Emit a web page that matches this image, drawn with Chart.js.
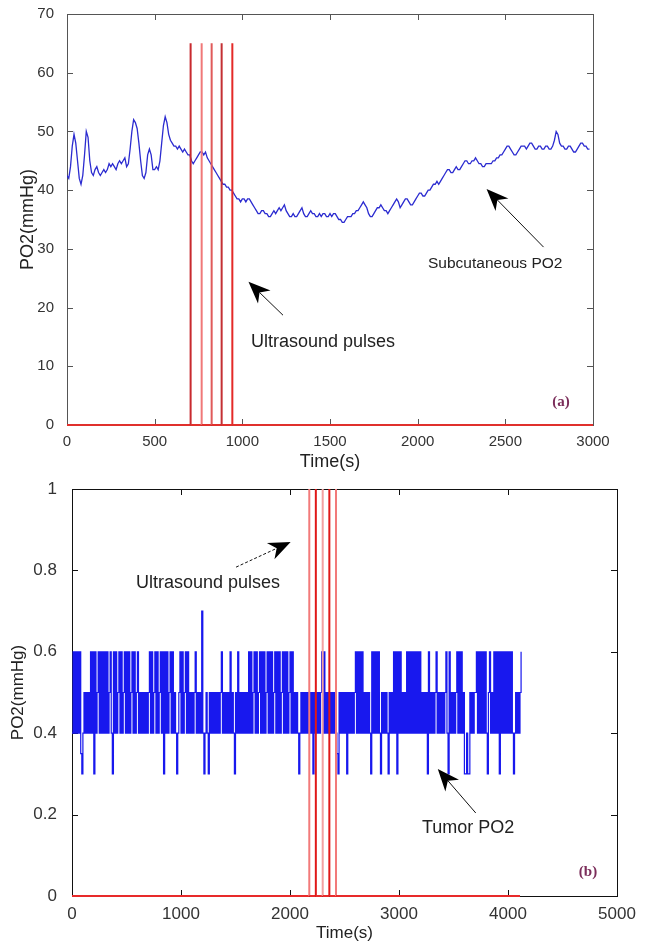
<!DOCTYPE html>
<html>
<head>
<meta charset="utf-8">
<script src="https://cdn.jsdelivr.net/npm/chart.js@4"></script>
<style>
  html, body { margin: 0; padding: 0; background: #fff; }
  body { width: 645px; height: 947px; position: relative; overflow: hidden; }
  .box { position: absolute; left: 0; width: 645px; }
</style>
</head>
<body>
<div class="box" style="top:0;height:480px"><canvas id="chartA"></canvas></div>
<div class="box" style="top:470px;height:477px"><canvas id="chartB"></canvas></div>
<script>
// (a) subcutaneous PO2, one sample every 10 s starting at 0 s
const subStep = 10;
const subPO2 = [
  42.5, 42, 44, 47.5, 49.5, 48, 45, 42, 41, 42.5,
  46, 50, 49, 45, 43, 42.5, 43.5, 44, 43, 42.5,
  43, 43.5, 43, 43.5, 44.5, 44, 44.5, 44, 43.5, 44.5,
  45, 44.5, 45, 45.5, 44, 44.5, 47, 50, 52, 51.5,
  50.5, 48, 45, 42.5, 42, 43, 46, 47, 46, 43.5,
  43.5, 44, 43.5, 45, 48, 51, 52.5, 51.5, 49.5, 48.5,
  48, 47.5, 47.5, 47, 47.5, 47, 46.5, 47, 46.5, 46,
  46, 45, 44.5, 45, 45.5, 46, 46.5, 46.5, 46, 46.5,
  45.5, 45, 44.5, 44, 43.5, 43, 42.5, 42, 41.5, 41,
  41, 40.5, 40.5, 40, 40, 39.5, 39, 38.5, 38.5, 38,
  38.5, 38.5, 38, 38.5, 38.5, 38, 37.5, 37, 36.5, 36,
  36, 36.5, 36.5, 36, 36, 35.5, 35.5, 36, 36.5, 36,
  36.5, 37, 36.5, 37, 37.5, 36.5, 36, 35.5, 35.5, 36,
  35.5, 35.5, 36, 36.5, 37, 36, 35.5, 35.5, 36, 36.5,
  36, 36, 35.5, 35.5, 36, 35.5, 36, 36, 35.5, 35.5,
  36, 35.5, 36, 36, 35.5, 35, 35, 34.5, 34.5, 35,
  35.5, 35.5, 35.5, 36, 36, 36.5, 36.5, 37, 37.5, 38,
  37.5, 37, 36, 35.5, 35.5, 36, 36.5, 37, 37, 37.5,
  37, 36.5, 36.5, 36, 36.5, 37, 37.5, 38, 38.5, 38,
  37, 37.5, 38, 38.5, 38.5, 38, 37.5, 37.5, 38, 38.5,
  39, 39.5, 39.5, 39, 39, 39.5, 40, 40, 40.5, 41,
  41, 41.5, 41, 41.5, 42, 42.5, 43, 43.5, 43.5, 43,
  43, 43.5, 44, 43.5, 43.5, 44, 44.5, 45, 45, 44.5,
  44.5, 45, 45, 45.5, 45, 44.5, 44.5, 44, 44, 44.5,
  44.5, 44.5, 44.5, 45, 45, 45.5, 45.5, 46, 46, 46.5,
  47, 47.5, 47.5, 47, 46.5, 46, 46, 46.5, 47, 47.5,
  47.5, 47.5, 47, 47.5, 48, 48, 47.5, 47, 47, 47.5,
  47.5, 47, 47, 47.5, 47.5, 47, 47, 47.5, 48.5, 50,
  49.5, 48, 47.5, 47.5, 47, 47, 47.5, 47.5, 47, 46.5,
  46.5, 47, 47.5, 48, 48, 47.5, 47.5, 47, 47
];
const pulseTimesA = [705, 768, 825, 882, 943];
const pulseHeightA = 65;
const pulseEndA = 3000;

// (b) tumor PO2 in tenths of mmHg, one sample every 10 s starting at 0 s
const tumorStep = 10;
const tumorTenths = [
  4, 6, 4, 6, 4, 6, 4, 6, 3.5, 3,
  4, 5, 4, 5, 4, 5, 4, 6, 4, 6,
  3, 6, 4, 5, 6, 4, 6, 4, 6, 4,
  6, 4, 6, 4, 5, 6, 4, 3, 6, 4,
  6, 4, 5, 6, 4, 6, 4, 5, 6, 4,
  6, 4, 6, 4, 5, 6, 4, 6, 4, 5,
  6, 4, 5, 4, 5, 4, 5, 4, 5, 4,
  5, 6, 4, 6, 4, 5, 6, 4, 6, 4,
  5, 6, 4, 6, 3, 6, 4, 6, 4, 5,
  6, 4, 6, 4, 5, 4, 3, 4, 5, 6,
  4, 6, 4, 5, 6, 4, 6, 4, 5, 4,
  5, 4, 5, 6, 4, 5, 4, 5, 4, 7,
  4, 3, 4, 5, 4, 3, 5, 4, 5, 4,
  5, 4, 5, 4, 5, 4, 5, 6, 4, 5,
  4, 5, 4, 5, 4, 6, 4, 5, 4, 3,
  5, 4, 6, 4, 5, 4, 5, 4, 5, 4,
  5, 4, 6, 4, 6, 4, 5, 6, 4, 6,
  4, 5, 6, 4, 6, 4, 6, 4, 5, 6,
  4, 6, 4, 6, 4, 5, 6, 4, 6, 4,
  6, 4, 5, 6, 4, 6, 4, 6, 4, 5,
  6, 4, 6, 4, 5, 4, 5, 4, 3, 4,
  5, 4, 5, 4, 5, 4, 5, 4, 5, 4,
  5, 3, 5, 4, 5, 4, 5, 4, 5, 6,
  4, 6, 4, 5, 4, 5, 4, 5, 4, 5,
  4, 5, 4, 3.5, 3, 5, 4, 5, 4, 5,
  4, 5, 3, 5, 4, 5, 4, 5, 4, 5,
  6, 4, 6, 4, 6, 4, 6, 4, 5, 4,
  5, 4, 5, 4, 3, 6, 4, 6, 4, 6,
  4, 6, 4, 3, 5, 4, 5, 4, 5, 4,
  3, 5, 4, 5, 4, 6, 4, 6, 3, 6,
  4, 6, 4, 5, 4, 5, 4, 6, 4, 6,
  4, 6, 4, 6, 4, 6, 4, 6, 4, 6,
  4, 5, 4, 5, 4, 5, 3, 6, 4, 5,
  4, 5, 4, 5, 6, 4, 5, 4, 5, 4,
  5, 4, 5, 6, 4, 3, 6, 4, 5, 4,
  5, 4, 5, 6, 4, 6, 4, 6, 4, 5,
  3, 3, 4, 3, 3, 5, 4, 5, 4, 5,
  5, 6, 4, 6, 4, 6, 4, 6, 4, 6,
  4, 3, 5, 6, 4, 5, 4, 6, 4, 6,
  4, 6, 3, 6, 4, 6, 4, 6, 4, 6,
  4, 6, 4, 6, 4, 3, 4, 5, 4, 5,
  4, 5, 6
];
const pulseTimesB = [2177, 2237, 2300, 2361, 2422];
const pulseHeightB = 1;
const pulseEndB = 4110;

const FONT = '"Liberation Sans", Arial, sans-serif';

function pulseTrain(times, height, end) {
  const pts = [{ x: 0, y: 0 }];
  times.forEach(t => pts.push({ x: t, y: 0 }, { x: t, y: height }, { x: t, y: 0 }));
  pts.push({ x: end, y: 0 });
  return pts;
}

// vertical segments of pulse k start at point 3k+1 and 3k+2
function pulseShade(shades, base) {
  return ctx => {
    const i = ctx.p0DataIndex - 1;
    if (i < 0 || i % 3 === 2) return base;
    return shades[Math.floor(i / 3)] || base;
  };
}

// matlab style box with inward ticks on all four sides
const matlabBox = {
  id: 'matlabBox',
  beforeDatasetsDraw(chart, args, opts) {
    const { ctx, chartArea: a, scales: { x, y } } = chart;
    const len = opts.tick || 6;
    ctx.save();
    ctx.strokeStyle = opts.color || '#000';
    ctx.lineWidth = 1;
    ctx.strokeRect(a.left + 0.5, a.top + 0.5, a.right - a.left, a.bottom - a.top);
    ctx.beginPath();
    x.ticks.forEach(t => {
      const px = Math.round(x.getPixelForValue(t.value)) + 0.5;
      ctx.moveTo(px, a.bottom); ctx.lineTo(px, a.bottom - len);
      ctx.moveTo(px, a.top); ctx.lineTo(px, a.top + len);
    });
    y.ticks.forEach(t => {
      const py = Math.round(y.getPixelForValue(t.value)) + 0.5;
      ctx.moveTo(a.left, py); ctx.lineTo(a.left + len, py);
      ctx.moveTo(a.right, py); ctx.lineTo(a.right - len, py);
    });
    ctx.stroke();
    ctx.restore();
  }
};

// text labels and arrows placed in data coordinates
const notes = {
  id: 'notes',
  afterDatasetsDraw(chart, args, opts) {
    const { ctx, scales: { x, y } } = chart;
    ctx.save();
    (opts.items || []).forEach(it => {
      if (it.text) {
        ctx.font = it.font;
        ctx.fillStyle = it.color || '#222';
        ctx.textAlign = it.align || 'left';
        ctx.textBaseline = 'middle';
        ctx.fillText(it.text, x.getPixelForValue(it.x), y.getPixelForValue(it.y));
        return;
      }
      const x0 = x.getPixelForValue(it.from[0]), y0 = y.getPixelForValue(it.from[1]);
      const x1 = x.getPixelForValue(it.to[0]), y1 = y.getPixelForValue(it.to[1]);
      const ang = Math.atan2(y1 - y0, x1 - x0);
      const c = Math.cos(ang), s = Math.sin(ang);
      const hl = it.head || 22, hw = it.half || 9;
      const bx = x1 - hl * c, by = y1 - hl * s;
      ctx.strokeStyle = '#111';
      ctx.fillStyle = '#000';
      ctx.lineWidth = 1;
      ctx.setLineDash(it.dash || []);
      ctx.beginPath();
      ctx.moveTo(x0, y0);
      ctx.lineTo(x1 - hl * 0.7 * c, y1 - hl * 0.7 * s);
      ctx.stroke();
      ctx.setLineDash([]);
      ctx.beginPath();
      ctx.moveTo(x1, y1);
      ctx.lineTo(bx + hw * s, by - hw * c);
      ctx.lineTo(x1 - hl * 0.7 * c, y1 - hl * 0.7 * s);
      ctx.lineTo(bx - hw * s, by + hw * c);
      ctx.closePath();
      ctx.fill();
    });
    ctx.restore();
  }
};

const plainNum = v => String(Math.round(v * 10) / 10);

function axes(xMax, xStep, yMax, yStep, o) {
  return {
    x: {
      type: 'linear', min: 0, max: xMax,
      afterFit: s => { s.height = o.xHeight; },
      grid: { display: false }, border: { display: false },
      ticks: { stepSize: xStep, padding: 0, color: '#333', callback: plainNum,
               font: { family: FONT, size: o.tickSize } },
      title: { display: true, text: 'Time(s)', color: '#222', padding: { top: 0, bottom: o.xTitlePad },
               font: { family: FONT, size: o.titleSize } }
    },
    y: {
      type: 'linear', min: 0, max: yMax,
      afterFit: s => { s.width = o.yWidth; },
      grid: { display: false }, border: { display: false },
      ticks: { stepSize: yStep, padding: o.yTickPad, color: '#333', callback: plainNum,
               font: { family: FONT, size: o.tickSize } },
      title: { display: true, text: 'PO2(mmHg)', color: '#222', padding: { top: o.yTitlePad, bottom: 0 },
               font: { family: FONT, size: o.titleSize } }
    }
  };
}

new Chart(document.getElementById('chartA'), {
  type: 'scatter',
  data: {
    datasets: [
      {
        label: 'Ultrasound pulses',
        data: pulseTrain(pulseTimesA, pulseHeightA, pulseEndA),
        showLine: true, borderColor: '#e0302c', borderWidth: 2, pointRadius: 0, clip: 3,
        segment: { borderColor: pulseShade(['#c82a2e', '#f07878', '#e05a5a', '#c43034', '#e42a28'], '#e0302c') }
      },
      {
        label: 'Subcutaneous PO2',
        data: subPO2.map((v, i) => ({ x: i * subStep, y: v })),
        showLine: true, borderColor: '#2b2bd0', borderWidth: 1.3, pointRadius: 0, tension: 0
      }
    ]
  },
  options: {
    responsive: true, maintainAspectRatio: false, animation: false,
    layout: { padding: { left: 0, top: 14, right: 52, bottom: 0 } },
    scales: axes(3000, 500, 70, 10, { xHeight: 55, yWidth: 67, tickSize: 15, titleSize: 18,
                                      xTitlePad: 7, yTitlePad: 17, yTickPad: 5 }),
    plugins: {
      legend: { display: false }, tooltip: { enabled: false },
      matlabBox: { color: '#555', tick: 6 },
      notes: {
        items: [
          { text: 'Ultrasound pulses', x: 1049, y: 14.1, font: '18px ' + FONT },
          { from: [1232, 18.7], to: [1035, 24.4] },
          { text: 'Subcutaneous PO2', x: 2059, y: 27.4, font: '15.5px ' + FONT },
          { from: [2718, 30.3], to: [2393, 40.2] },
          { text: '(a)', x: 2817, y: 3.9, align: 'center', color: '#7b2d5a',
            font: 'bold 15px "Liberation Serif", "Times New Roman", serif' }
        ]
      }
    }
  },
  plugins: [matlabBox, notes]
});

new Chart(document.getElementById('chartB'), {
  type: 'scatter',
  data: {
    datasets: [
      {
        label: 'Ultrasound pulses',
        data: pulseTrain(pulseTimesB, pulseHeightB, pulseEndB),
        showLine: true, borderColor: '#e82a2a', borderWidth: 2, pointRadius: 0, clip: 3,
        segment: { borderColor: pulseShade(['#f27a7a', '#e01818', '#f2a0a0', '#e01818', '#f27a7a'], '#e82a2a') }
      },
      {
        label: 'Tumor PO2',
        data: tumorTenths.map((v, i) => ({ x: i * tumorStep, y: v / 10 })),
        showLine: true, stepped: true, borderColor: '#1818ee', borderWidth: 1.2, pointRadius: 0
      }
    ]
  },
  options: {
    responsive: true, maintainAspectRatio: false, animation: false,
    layout: { padding: { left: 0, top: 19, right: 28, bottom: 0 } },
    scales: axes(5000, 1000, 1, 0.2, { xHeight: 51, yWidth: 72, tickSize: 17, titleSize: 17,
                                       xTitlePad: 3, yTitlePad: 8, yTickPad: 7 }),
    plugins: {
      legend: { display: false }, tooltip: { enabled: false },
      matlabBox: { color: '#111', tick: 6 },
      notes: {
        items: [
          { text: 'Ultrasound pulses', x: 587, y: 0.769, font: '18px ' + FONT },
          { from: [1505, 0.808], to: [2006, 0.870], dash: [3, 2] },
          { text: 'Tumor PO2', x: 3211, y: 0.167, font: '18px ' + FONT },
          { from: [3704, 0.204], to: [3356, 0.312] },
          { text: '(b)', x: 4734, y: 0.059, align: 'center', color: '#7b2d5a',
            font: 'bold 15px "Liberation Serif", "Times New Roman", serif' }
        ]
      }
    }
  },
  plugins: [matlabBox, notes]
});
</script>
</body>
</html>
